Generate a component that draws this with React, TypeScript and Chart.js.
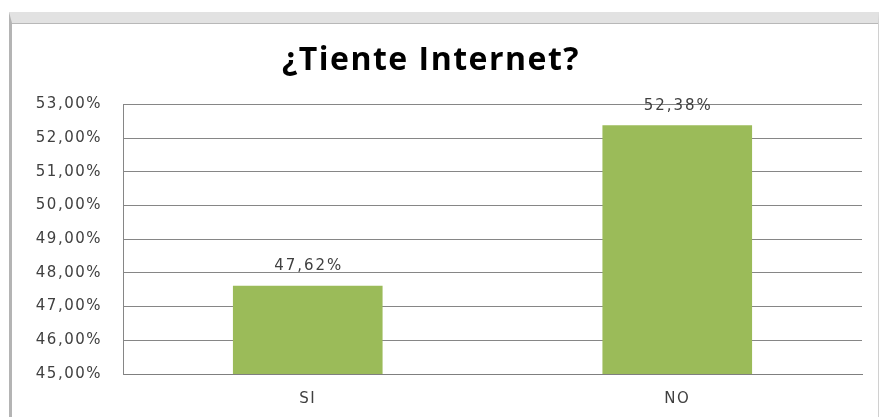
import React, { useEffect, useRef } from "react";
import { Chart, registerables } from "chart.js";

Chart.register(...registerables);

const categories = ["SI", "NO"];
const seriesValues = [47.62, 52.38];
const yMin = 45;
const yMax = 53;
const yStep = 1;
const chartTitle = "¿Tiente Internet?";

const fmt = (v: number) => v.toFixed(2).replace(".", ",") + "%";

const spacing = {
  id: "spacing",
  beforeDraw(chart: any) {
    (chart.ctx as any).letterSpacing = "1.5px";
  },
  afterDraw(chart: any) {
    (chart.ctx as any).letterSpacing = "0px";
  },
};

const valueLabels = {
  id: "valueLabels",
  afterDatasetsDraw(chart: any) {
    const ctx = chart.ctx;
    const meta = chart.getDatasetMeta(0);
    ctx.save();
    ctx.letterSpacing = "2px";
    ctx.font = "15px 'DejaVu Sans'";
    ctx.fillStyle = "#404040";
    ctx.textAlign = "center";
    ctx.textBaseline = "bottom";
    meta.data.forEach((el: any, i: number) => {
      const v = chart.data.datasets[0].data[i] as number;
      ctx.fillText(fmt(v), el.x + 1, el.y - 12);
    });
    ctx.restore();
  },
};

export default function App() {
  const ref = useRef<HTMLCanvasElement>(null);
  useEffect(() => {
    if (!ref.current) return;
    const chart = new Chart(ref.current, {
      type: "bar",
      data: {
        labels: categories,
        datasets: [
          {
            data: seriesValues,
            backgroundColor: "#9BBB59",
            borderWidth: 0,
            barPercentage: 0.405,
            categoryPercentage: 1,
          },
        ],
      },
      options: {
        animation: false,
        responsive: false,
        maintainAspectRatio: false,
        layout: { padding: { left: 0, right: 22, top: 0, bottom: 0 } },
        plugins: {
          legend: { display: false },
          tooltip: { enabled: false },
          title: {
            display: true,
            text: chartTitle,
            color: "#000000",
            font: { family: "Open Sans", weight: "bold", size: 32 },
            padding: { top: 42, bottom: 24 },
          },
        },
        scales: {
          x: {
            afterFit: (scale: any) => {
              scale.height = 43;
            },
            grid: { display: false, drawTicks: false },
            border: { display: true, color: "#7f7f7f", width: 1 },
            ticks: {
              color: "#404040",
              font: { family: "DejaVu Sans", size: 15 },
              padding: 16,
            },
          },
          y: {
            min: yMin,
            max: yMax,
            afterFit: (scale: any) => {
              scale.width = 123;
            },
            grid: { color: "#868686", lineWidth: 1, drawTicks: false },
            border: { display: true, color: "#868686", width: 1 },
            ticks: {
              stepSize: yStep,
              color: "#404040",
              font: { family: "DejaVu Sans", size: 15 },
              padding: 21,
              callback: (v: any) => fmt(Number(v)),
            },
          },
        },
      },
      plugins: [spacing, valueLabels],
    });
    return () => chart.destroy();
  }, []);

  return (
    <div
      style={{
        position: "fixed",
        left: 0,
        top: 0,
        width: 884,
        height: 417,
        background: "#ffffff",
        overflow: "hidden",
      }}
    >
      <div
        style={{
          position: "absolute",
          left: 9,
          top: 12,
          width: 870,
          height: 420,
          borderTop: "11px solid #e2e2e2",
          borderLeft: "3px solid #b4b4b4",
          borderRight: "1px solid #d0d0d0",
          boxSizing: "border-box",
        }}
      >
        <div style={{ height: 1, background: "#b8b8b8" }} />
      </div>
      <canvas
        ref={ref}
        width={884}
        height={417}
        style={{ position: "absolute", left: 0, top: 0, width: 884, height: 417 }}
      />
    </div>
  );
}
